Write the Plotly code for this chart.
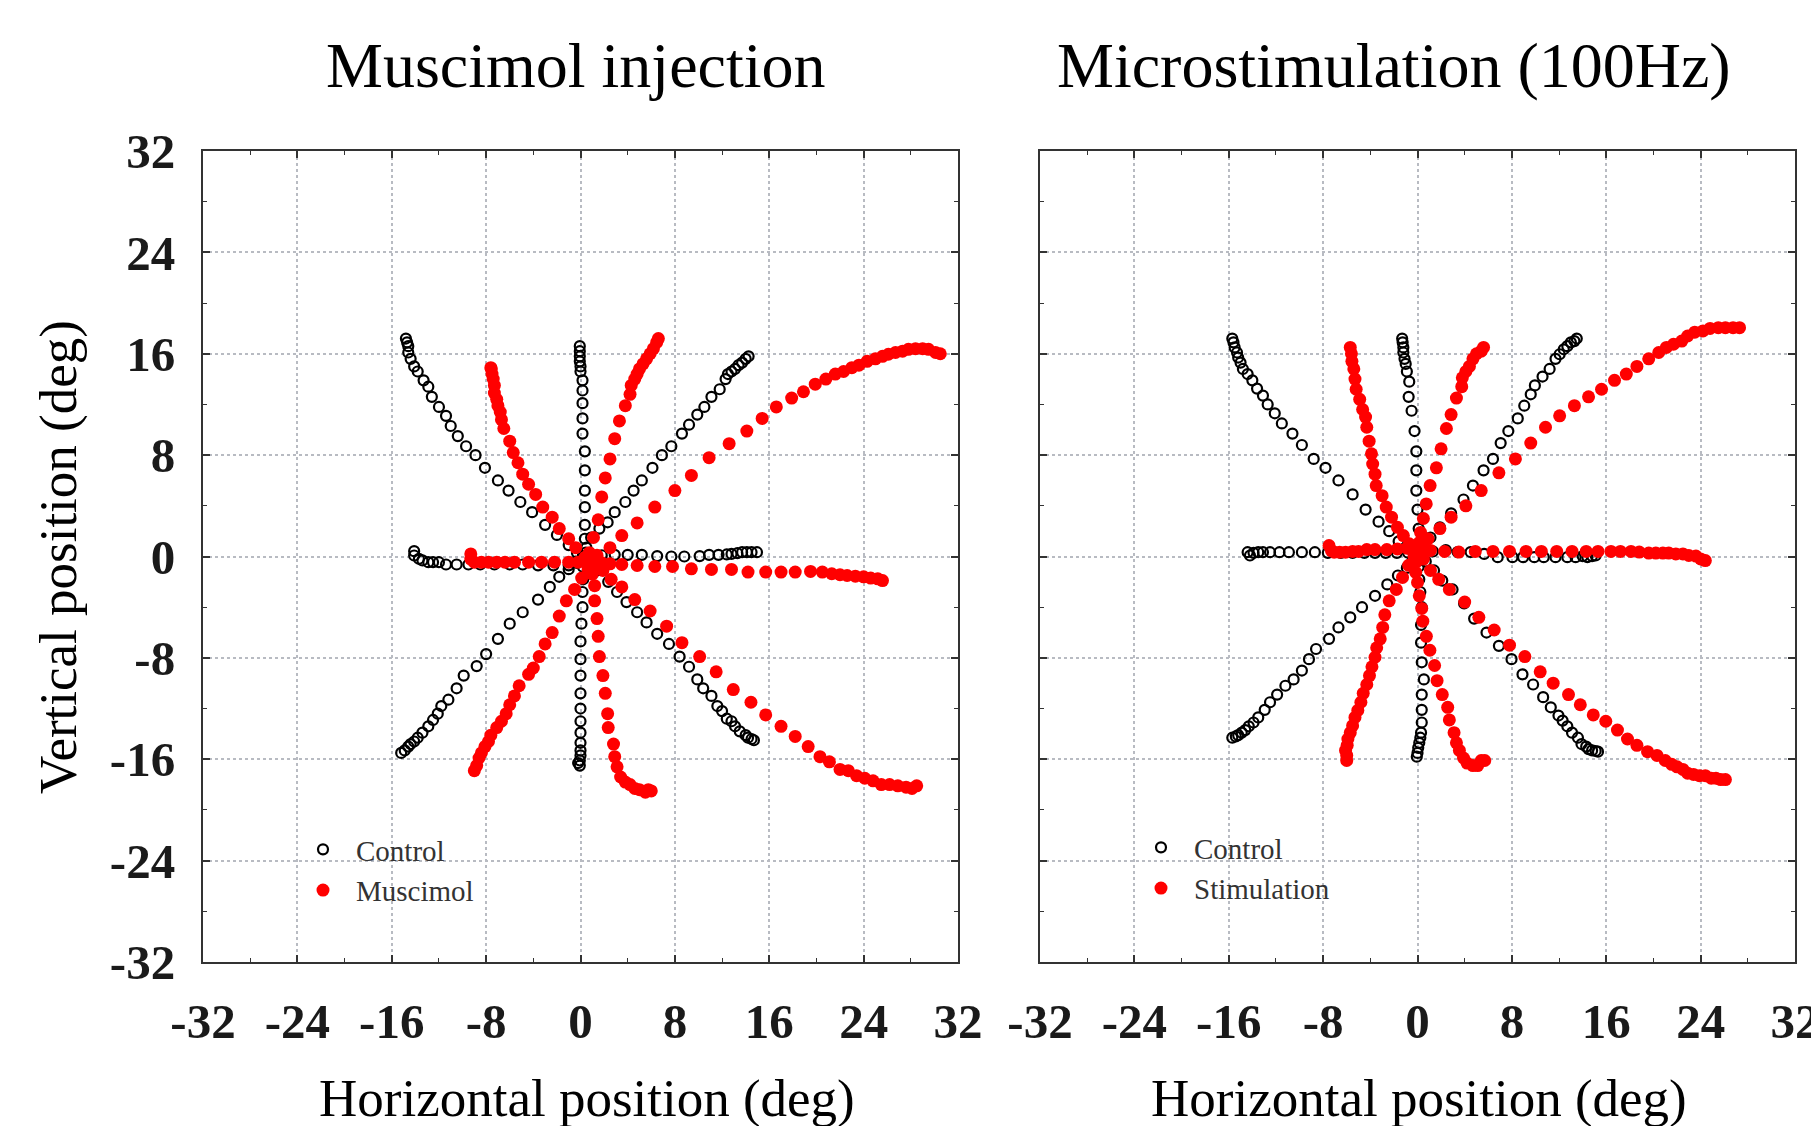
import plotly.graph_objects as go

# ---------------- Tick labels ----------------
TICK_VALS = [-32, -24, -16, -8, 0, 8, 16, 24, 32]
TICK_TEXT = ["-32", "-24", "-16", "-8", "0", "8", "16", "24", "32"]
MINOR_VALS = [-28, -20, -12, -4, 4, 12, 20, 28]

# ================= LEFT PANEL: Muscimol injection =================
# --- Control (open circles) ---
L_CTRL_UL_X = [0.2, -0.3, -1.0, -2.0, -3.0, -4.1, -5.1, -6.1, -7.0, -8.1, -8.9, -9.7, -10.4, -11.0, -11.4, -12.0, -12.6, -12.9, -13.3, -13.8, -14.1, -14.4, -14.6, -14.6, -14.7, -14.8]
L_CTRL_UL_Y = [0.0, 0.3, 0.9, 1.7, 2.5, 3.5, 4.3, 5.2, 6.0, 7.0, 8.0, 8.7, 9.5, 10.3, 11.1, 11.8, 12.6, 13.4, 13.9, 14.6, 15.0, 15.6, 16.1, 16.6, 16.9, 17.2]
L_CTRL_U_X = [0.3, 0.45, 0.37, 0.37, 0.37, 0.37, 0.37, 0.37, 0.17, 0.17, 0.17, 0.17, 0.17, 0.0, 0.0, -0.06, -0.06, -0.06, -0.06]
L_CTRL_U_Y = [-0.2, 0.3, 1.4, 2.5, 3.9, 5.2, 6.8, 8.3, 9.7, 10.9, 12.1, 13.1, 13.9, 14.6, 15.0, 15.4, 15.8, 16.2, 16.6]
L_CTRL_UR_X = [0.2, 0.5, 0.9, 1.6, 2.3, 2.9, 3.8, 4.5, 5.2, 6.1, 6.9, 7.7, 8.6, 9.2, 9.9, 10.5, 11.1, 11.8, 12.3, 12.5, 12.8, 13.1, 13.4, 13.7, 14.0, 14.25]
L_CTRL_UR_Y = [0.0, 0.7, 1.5, 2.2, 2.7, 3.5, 4.3, 5.2, 6.0, 7.0, 8.0, 8.7, 9.7, 10.4, 11.2, 11.8, 12.6, 13.2, 14.0, 14.4, 14.6, 14.8, 15.1, 15.3, 15.6, 15.8]
L_CTRL_L_X = [0.3, -0.3, -1.0, -2.3, -3.6, -4.9, -6.0, -7.3, -8.5, -9.5, -10.5, -11.4, -12.0, -12.5, -12.9, -13.4, -13.7, -14.1, -14.1]
L_CTRL_L_Y = [-0.3, -0.5, -0.7, -0.7, -0.7, -0.63, -0.63, -0.63, -0.63, -0.63, -0.63, -0.63, -0.45, -0.45, -0.45, -0.31, -0.18, 0.08, 0.42]
L_CTRL_R_X = [0.8, 1.8, 2.9, 4.0, 5.2, 6.5, 7.7, 8.8, 10.1, 10.9, 11.7, 12.4, 12.8, 13.3, 13.7, 14.1, 14.5, 14.96]
L_CTRL_R_Y = [-0.1, 0.1, 0.13, 0.13, 0.13, 0.03, 0.0, 0.0, 0.03, 0.13, 0.13, 0.16, 0.2, 0.26, 0.34, 0.34, 0.34, 0.34]
L_CTRL_LR_X = [0.5, 1.4, 2.35, 3.1, 3.9, 4.8, 5.6, 6.5, 7.5, 8.4, 9.2, 9.9, 10.4, 11.1, 11.6, 12.0, 12.4, 12.8, 13.1, 13.5, 14.0, 14.2, 14.5, 14.7]
L_CTRL_LR_Y = [-0.3, -1.1, -2.0, -2.8, -3.6, -4.4, -5.2, -6.1, -6.9, -7.9, -8.7, -9.7, -10.4, -11.0, -11.8, -12.2, -12.8, -13.0, -13.4, -13.8, -14.1, -14.3, -14.4, -14.5]
L_CTRL_D_X = [0.2, 0.2, 0.23, 0.17, 0.17, 0.08, 0.0, 0.0, 0.0, 0.0, 0.0, 0.0, 0.0, 0.0, 0.0, 0.0, -0.06, -0.2, -0.06]
L_CTRL_D_Y = [-0.1, -0.8, -1.8, -2.8, -4.0, -5.3, -6.7, -8.1, -9.4, -10.8, -12.0, -13.0, -13.9, -14.7, -15.3, -15.7, -16.1, -16.3, -16.5]
L_CTRL_LL_X = [0.2, -0.4, -1.0, -1.8, -2.6, -3.6, -4.9, -6.0, -7.0, -8.0, -8.8, -9.9, -10.5, -11.2, -11.8, -12.1, -12.5, -12.9, -13.4, -13.8, -14.1, -14.4, -14.6, -14.9, -15.2]
L_CTRL_LL_Y = [0.0, -0.4, -1.0, -1.6, -2.4, -3.4, -4.4, -5.3, -6.5, -7.7, -8.65, -9.4, -10.4, -11.3, -11.8, -12.4, -12.9, -13.4, -13.9, -14.3, -14.6, -14.8, -15.0, -15.3, -15.5]

# --- Muscimol (filled red) ---
L_MUS_L_X = [1.2, 1.0, 0.5, -0.2, -1.0, -2.2, -3.3, -4.4, -5.6, -6.4, -7.1, -7.8, -8.4, -9.0, -9.3, -9.3]
L_MUS_L_Y = [-0.5, -0.5, -0.45, -0.45, -0.45, -0.45, -0.45, -0.45, -0.45, -0.45, -0.45, -0.45, -0.45, -0.45, -0.2, 0.2]
L_MUS_UL_X = [1.1, 0.8, 0.4, -0.4, -1.0, -1.8, -2.4, -3.2, -3.8, -4.4, -4.9, -5.3, -5.7, -6.0, -6.5, -6.7, -6.8, -7.0, -7.1, -7.3, -7.3, -7.4, -7.5, -7.56, -7.6]
L_MUS_UL_Y = [-0.45, -0.3, -0.05, 0.7, 1.4, 2.2, 3.1, 3.9, 4.9, 5.7, 6.5, 7.4, 8.2, 9.1, 10.1, 10.8, 11.4, 11.9, 12.4, 12.9, 13.5, 14.0, 14.4, 14.8, 14.9]
L_MUS_U_X = [1.1, 0.9, 0.75, 1.1, 1.5, 1.8, 2.1, 2.5, 2.9, 3.3, 3.8, 4.2, 4.3, 4.6, 4.8, 5.0, 5.3, 5.6, 5.9, 6.18, 6.46, 6.6]
L_MUS_U_Y = [-0.4, -0.1, 0.3, 1.5, 2.9, 4.7, 6.2, 7.7, 9.3, 10.7, 11.9, 12.8, 13.5, 14.0, 14.4, 14.8, 15.2, 15.6, 16.0, 16.4, 16.9, 17.2]
L_MUS_UR_X = [1.2, 1.4, 2.5, 3.5, 4.8, 6.3, 8.0, 9.4, 10.9, 12.6, 14.1, 15.4, 16.6, 17.9, 18.9, 19.9, 20.8, 21.6, 22.3, 23.0, 23.6, 24.3, 25.0, 25.6, 26.1, 26.7, 27.3, 27.8, 28.4, 29.0, 29.5, 30.1, 30.5]
L_MUS_UR_Y = [-0.3, 0.1, 0.7, 1.65, 2.65, 3.9, 5.2, 6.4, 7.8, 8.9, 9.9, 10.9, 11.8, 12.5, 13.0, 13.6, 14.0, 14.4, 14.6, 14.9, 15.1, 15.4, 15.6, 15.8, 15.96, 16.1, 16.2, 16.35, 16.4, 16.4, 16.35, 16.1, 16.0]
L_MUS_R_X = [1.3, 1.8, 2.5, 3.5, 4.8, 6.3, 7.8, 9.4, 11.1, 12.8, 14.2, 15.7, 17.0, 18.2, 19.5, 20.5, 21.3, 22.0, 22.6, 23.3, 24.0, 24.6, 25.2, 25.6]
L_MUS_R_Y = [-0.45, -0.5, -0.58, -0.63, -0.71, -0.79, -0.79, -0.97, -1.02, -1.02, -1.23, -1.23, -1.23, -1.23, -1.18, -1.23, -1.36, -1.44, -1.5, -1.55, -1.6, -1.7, -1.76, -1.9]
L_MUS_LR_X = [1.3, 1.9, 2.6, 3.5, 4.6, 5.9, 7.3, 8.6, 10.1, 11.5, 12.95, 14.45, 15.7, 17.0, 18.2, 19.3, 20.3, 21.1, 22.0, 22.7, 23.4, 24.1, 24.8, 25.5, 26.2, 26.9, 27.6, 28.1, 28.5]
L_MUS_LR_Y = [-0.6, -1.1, -1.8, -2.4, -3.4, -4.3, -5.5, -6.8, -7.9, -9.1, -10.5, -11.5, -12.5, -13.4, -14.2, -15.0, -15.8, -16.2, -16.8, -16.9, -17.3, -17.5, -17.7, -18.0, -18.0, -18.1, -18.2, -18.3, -18.1]
L_MUS_D_X = [1.2, 1.0, 1.2, 1.2, 1.4, 1.5, 1.6, 1.9, 2.1, 2.3, 2.35, 2.8, 2.9, 3.1, 3.4, 3.8, 4.2, 4.6, 5.0, 5.5, 5.75, 6.0]
L_MUS_D_Y = [-0.6, -1.4, -2.3, -3.5, -4.9, -6.3, -7.9, -9.4, -10.8, -12.4, -13.5, -14.8, -15.8, -16.6, -17.4, -17.8, -18.0, -18.3, -18.4, -18.6, -18.4, -18.5]
L_MUS_LL_X = [1.1, 0.65, 0.1, -0.5, -1.2, -1.8, -2.4, -3.0, -3.5, -4.0, -4.4, -5.2, -5.6, -6.0, -6.3, -6.7, -7.1, -7.6, -7.8, -8.1, -8.4, -8.6, -8.8, -9.0]
L_MUS_LL_Y = [-0.5, -1.0, -1.7, -2.6, -3.5, -4.7, -6.0, -6.9, -7.9, -8.8, -9.3, -10.2, -11.0, -11.7, -12.4, -13.0, -13.5, -14.1, -14.6, -15.0, -15.5, -15.9, -16.5, -16.9]

# ================= RIGHT PANEL: Microstimulation (100Hz) =================
# --- Control (open circles) ---
R_CTRL_UL_X = [0.0, -0.4, -1.0, -1.6, -2.4, -3.3, -4.4, -5.5, -6.7, -7.8, -8.8, -9.8, -10.6, -11.5, -12.1, -12.7, -13.1, -13.6, -14.0, -14.4, -14.8, -15.0, -15.2, -15.3, -15.5, -15.6, -15.7]
R_CTRL_UL_Y = [0.3, 0.4, 0.7, 1.2, 2.0, 2.75, 3.7, 4.9, 6.0, 7.0, 7.7, 8.8, 9.7, 10.5, 11.3, 12.0, 12.7, 13.25, 13.9, 14.4, 14.8, 15.3, 15.7, 16.1, 16.5, 16.9, 17.2]
R_CTRL_U_X = [0.1, 0.15, 0.1, 0.0, -0.1, -0.1, -0.1, -0.25, -0.5, -0.75, -0.7, -0.9, -1.0, -1.1, -1.2, -1.2, -1.26, -1.3]
R_CTRL_U_Y = [0.3, 1.0, 2.2, 3.7, 5.2, 6.8, 8.3, 9.9, 11.5, 12.6, 13.8, 14.6, 15.2, 15.6, 16.1, 16.5, 16.9, 17.2]
R_CTRL_UR_X = [0.1, 0.5, 1.1, 1.9, 2.85, 3.9, 4.7, 5.6, 6.4, 7.05, 7.7, 8.5, 9.05, 9.6, 9.95, 10.6, 11.2, 11.7, 12.05, 12.4, 12.7, 13.0, 13.3, 13.5]
R_CTRL_UR_Y = [0.3, 0.8, 1.5, 2.3, 3.4, 4.5, 5.6, 6.8, 7.7, 8.95, 9.9, 10.9, 11.9, 12.8, 13.5, 14.2, 14.8, 15.6, 15.96, 16.35, 16.6, 16.9, 17.0, 17.2]
R_CTRL_L_X = [0.0, -0.8, -1.75, -2.7, -3.6, -4.5, -5.5, -6.5, -7.6, -8.7, -9.8, -10.9, -11.7, -12.5, -13.1, -13.5, -13.9, -14.2, -14.4]
R_CTRL_L_Y = [0.3, 0.3, 0.29, 0.29, 0.29, 0.29, 0.29, 0.29, 0.29, 0.34, 0.34, 0.34, 0.34, 0.34, 0.34, 0.34, 0.29, 0.08, 0.34]
R_CTRL_R_X = [0.3, 1.3, 2.4, 3.4, 4.5, 5.65, 6.8, 8.05, 8.95, 9.9, 10.7, 11.7, 12.7, 13.4, 14.0, 14.4, 14.8, 15.1]
R_CTRL_R_Y = [0.3, 0.4, 0.5, 0.35, 0.35, 0.2, -0.05, -0.05, -0.05, -0.05, -0.05, -0.05, -0.05, -0.05, 0.03, -0.05, 0.03, 0.08]
R_CTRL_LR_X = [0.2, 0.7, 1.4, 2.1, 2.97, 3.95, 4.8, 5.85, 6.9, 7.97, 8.9, 9.8, 10.65, 11.3, 11.95, 12.3, 12.7, 13.1, 13.6, 13.9, 14.3, 14.5, 14.8, 15.1, 15.3]
R_CTRL_LR_Y = [0.2, -0.4, -1.1, -1.9, -2.6, -3.7, -4.9, -6.0, -7.05, -8.1, -9.3, -10.1, -11.1, -11.9, -12.55, -12.95, -13.4, -13.9, -14.3, -14.8, -15.0, -15.2, -15.3, -15.35, -15.4]
R_CTRL_D_X = [0.0, 0.1, 0.15, 0.24, 0.36, 0.3, 0.3, 0.36, 0.54, 0.36, 0.36, 0.36, 0.3, 0.24, 0.15, 0.06, 0.0, -0.06]
R_CTRL_D_Y = [0.2, -0.8, -1.8, -2.8, -4.0, -5.4, -6.8, -8.35, -9.7, -10.9, -12.1, -13.1, -13.9, -14.3, -14.7, -15.1, -15.5, -15.8]
R_CTRL_LL_X = [0.0, -0.4, -0.9, -1.66, -2.56, -3.6, -4.7, -5.7, -6.7, -7.5, -8.6, -9.2, -9.8, -10.5, -11.2, -11.9, -12.5, -12.95, -13.5, -13.9, -14.3, -14.6, -14.9, -15.2, -15.4, -15.7]
R_CTRL_LL_Y = [0.2, -0.3, -0.9, -1.5, -2.2, -3.1, -4.0, -4.8, -5.6, -6.5, -7.3, -8.1, -9.0, -9.7, -10.2, -10.9, -11.5, -12.1, -12.7, -13.1, -13.4, -13.7, -13.9, -14.1, -14.2, -14.3]

# --- Stimulation (filled red) ---
R_STIM_L_X = [0.1, -0.3, -0.9, -1.7, -2.6, -3.6, -4.3, -5.0, -5.5, -6.1, -6.6, -7.06, -7.3, -7.5]
R_STIM_L_Y = [0.6, 0.6, 0.66, 0.6, 0.55, 0.55, 0.55, 0.4, 0.4, 0.34, 0.34, 0.34, 0.47, 0.87]
R_STIM_UL_X = [0.0, -0.3, -0.7, -1.2, -1.7, -2.2, -2.65, -3.0, -3.5, -3.6, -3.8, -3.9, -4.1, -4.3, -4.4, -4.65, -4.9, -5.2, -5.3, -5.4, -5.56, -5.6, -5.7]
R_STIM_UL_Y = [0.6, 0.7, 1.0, 1.65, 2.3, 3.1, 3.9, 4.8, 5.6, 6.5, 7.3, 8.1, 9.1, 10.2, 11.0, 11.6, 12.4, 13.2, 14.0, 14.8, 15.4, 16.0, 16.5]
R_STIM_U_X = [0.1, 0.15, 0.26, 0.5, 0.74, 1.07, 1.6, 2.0, 2.45, 2.85, 3.3, 3.75, 3.8, 4.1, 4.4, 4.7, 5.0, 5.4, 5.6]
R_STIM_U_Y = [0.6, 1.1, 1.9, 3.0, 4.15, 5.6, 7.0, 8.5, 10.1, 11.2, 12.5, 13.4, 14.1, 14.6, 15.0, 15.6, 16.0, 16.2, 16.5]
R_STIM_UR_X = [0.1, 0.4, 0.9, 1.9, 2.85, 4.1, 5.4, 6.9, 8.3, 9.6, 10.85, 12.05, 13.3, 14.5, 15.6, 16.7, 17.7, 18.6, 19.6, 20.45, 21.1, 21.7, 22.4, 22.9, 23.5, 24.2, 24.8, 25.5, 26.1, 26.75, 27.3]
R_STIM_UR_Y = [0.6, 0.8, 1.4, 2.2, 3.1, 4.0, 5.2, 6.6, 7.7, 8.95, 10.2, 11.1, 11.9, 12.6, 13.2, 13.9, 14.4, 15.0, 15.6, 16.1, 16.5, 16.75, 17.0, 17.4, 17.7, 17.8, 18.0, 18.06, 18.06, 18.06, 18.06]
R_STIM_R_X = [0.1, 0.5, 1.1, 2.3, 3.5, 4.9, 6.4, 7.8, 9.2, 10.5, 11.8, 13.1, 14.3, 15.3, 16.4, 17.2, 18.1, 18.8, 19.6, 20.2, 20.8, 21.3, 21.9, 22.5, 23.0, 23.6, 24.0, 24.4]
R_STIM_R_Y = [0.6, 0.55, 0.48, 0.4, 0.35, 0.4, 0.4, 0.4, 0.4, 0.4, 0.4, 0.4, 0.4, 0.4, 0.4, 0.4, 0.4, 0.35, 0.27, 0.27, 0.27, 0.27, 0.2, 0.2, 0.08, 0.03, -0.19, -0.32]
R_STIM_LR_X = [0.2, 0.5, 1.1, 1.8, 2.7, 4.0, 5.2, 6.5, 7.8, 9.1, 10.4, 11.5, 12.8, 13.8, 14.9, 15.96, 16.95, 17.8, 18.6, 19.5, 20.3, 21.0, 21.55, 22.0, 22.5, 22.9, 23.4, 23.9, 24.4, 24.9, 25.3, 25.7, 26.1]
R_STIM_LR_Y = [0.4, -0.2, -1.1, -1.8, -2.6, -3.6, -4.8, -5.8, -7.0, -7.9, -9.1, -10.0, -10.9, -11.7, -12.5, -13.0, -13.7, -14.4, -14.9, -15.4, -15.7, -16.1, -16.4, -16.6, -16.8, -17.1, -17.2, -17.3, -17.3, -17.5, -17.5, -17.6, -17.6]
R_STIM_D_X = [0.0, -0.1, -0.15, 0.0, 0.15, 0.36, 0.45, 0.75, 1.05, 1.45, 1.66, 2.1, 2.56, 2.7, 3.1, 3.3, 3.55, 3.9, 4.2, 4.7, 5.1, 5.4, 5.7]
R_STIM_D_Y = [0.3, -0.4, -1.25, -2.05, -3.1, -4.1, -5.1, -6.3, -7.4, -8.6, -9.8, -10.9, -11.9, -12.9, -13.9, -14.7, -15.3, -15.9, -16.3, -16.5, -16.5, -16.1, -16.1]
R_STIM_LL_X = [0.0, -0.3, -0.75, -1.27, -1.8, -2.4, -2.77, -2.95, -3.16, -3.46, -3.6, -3.86, -4.07, -4.3, -4.6, -4.8, -5.06, -5.3, -5.5, -5.7, -5.9, -5.96, -6.1, -6.0, -6.0]
R_STIM_LL_Y = [0.5, 0.0, -0.7, -1.65, -2.6, -3.5, -4.6, -5.6, -6.5, -7.2, -7.95, -8.7, -9.4, -10.1, -10.8, -11.5, -12.15, -12.7, -13.35, -13.9, -14.4, -14.9, -15.3, -15.7, -16.1]


def flat(pairs):
    xs, ys = [], []
    for x, y in pairs:
        xs += list(x)
        ys += list(y)
    return xs, ys


left_ctrl = flat([(L_CTRL_UL_X, L_CTRL_UL_Y), (L_CTRL_U_X, L_CTRL_U_Y), (L_CTRL_UR_X, L_CTRL_UR_Y),
                  (L_CTRL_L_X, L_CTRL_L_Y), (L_CTRL_R_X, L_CTRL_R_Y), (L_CTRL_LR_X, L_CTRL_LR_Y),
                  (L_CTRL_D_X, L_CTRL_D_Y), (L_CTRL_LL_X, L_CTRL_LL_Y)])
left_mus = flat([(L_MUS_L_X, L_MUS_L_Y), (L_MUS_UL_X, L_MUS_UL_Y), (L_MUS_U_X, L_MUS_U_Y),
                 (L_MUS_UR_X, L_MUS_UR_Y), (L_MUS_R_X, L_MUS_R_Y), (L_MUS_LR_X, L_MUS_LR_Y),
                 (L_MUS_D_X, L_MUS_D_Y), (L_MUS_LL_X, L_MUS_LL_Y)])
right_ctrl = flat([(R_CTRL_UL_X, R_CTRL_UL_Y), (R_CTRL_U_X, R_CTRL_U_Y), (R_CTRL_UR_X, R_CTRL_UR_Y),
                   (R_CTRL_L_X, R_CTRL_L_Y), (R_CTRL_R_X, R_CTRL_R_Y), (R_CTRL_LR_X, R_CTRL_LR_Y),
                   (R_CTRL_D_X, R_CTRL_D_Y), (R_CTRL_LL_X, R_CTRL_LL_Y)])
right_stim = flat([(R_STIM_L_X, R_STIM_L_Y), (R_STIM_UL_X, R_STIM_UL_Y), (R_STIM_U_X, R_STIM_U_Y),
                   (R_STIM_UR_X, R_STIM_UR_Y), (R_STIM_R_X, R_STIM_R_Y), (R_STIM_LR_X, R_STIM_LR_Y),
                   (R_STIM_D_X, R_STIM_D_Y), (R_STIM_LL_X, R_STIM_LL_Y)])

SERIF = "Liberation Serif"
OPEN_MARKER = dict(symbol="circle-open", size=10, color="black", line=dict(width=2.2, color="black"))
RED_MARKER = dict(symbol="circle", size=13, color="#ff0000", line=dict(width=0))

fig = go.Figure()
fig.add_trace(go.Scatter(x=left_ctrl[0], y=left_ctrl[1], mode="markers", name="Control",
                         marker=OPEN_MARKER, xaxis="x", yaxis="y", legend="legend"))
fig.add_trace(go.Scatter(x=left_mus[0], y=left_mus[1], mode="markers", name="Muscimol",
                         marker=RED_MARKER, xaxis="x", yaxis="y", legend="legend"))
fig.add_trace(go.Scatter(x=right_ctrl[0], y=right_ctrl[1], mode="markers", name="Control",
                         marker=OPEN_MARKER, xaxis="x2", yaxis="y2", legend="legend2"))
fig.add_trace(go.Scatter(x=right_stim[0], y=right_stim[1], mode="markers", name="Stimulation",
                         marker=RED_MARKER, xaxis="x2", yaxis="y2", legend="legend2"))

W, H = 1819, 1126
OFF = 8  # page body margin
px_x = lambda p: (p - OFF) / W
px_y = lambda p: 1 - (p - OFF) / H

tickfont = dict(family=SERIF, size=49, color="#1a1a1a", weight="bold")


def axis(domain, anchor, show_labels, standoff):
    return dict(domain=domain, anchor=anchor, range=[-32, 32], autorange=False, automargin=False,
                tickmode="array", tickvals=TICK_VALS, ticktext=TICK_TEXT,
                ticks="inside", ticklen=7, tickwidth=1.6, tickcolor="#333",
                showline=True, linecolor="#333", linewidth=2, mirror="ticks",
                showgrid=True, gridcolor="#b8bbc2", griddash="dot", gridwidth=1.5,
                zeroline=False, showticklabels=show_labels, tickfont=tickfont,
                ticklabelstandoff=standoff,
                minor=dict(tickmode="array", tickvals=MINOR_VALS, ticks="inside", ticklen=4,
                           tickwidth=1.4, tickcolor="#333", showgrid=False))


y_dom = [px_y(962), px_y(151)]
fig.update_layout(
    width=W, height=H, margin=dict(l=0, r=0, t=0, b=0, pad=0, autoexpand=False),
    paper_bgcolor="white", plot_bgcolor="white",
    xaxis=axis([px_x(203), px_x(958)], "y", True, 15),
    yaxis=axis(y_dom, "x", True, 16),
    xaxis2=axis([px_x(1040), px_x(1795)], "y2", True, 15),
    yaxis2=axis(y_dom, "x2", False, 16),
    legend=dict(x=px_x(290), y=px_y(824), xanchor="left", yanchor="top",
                bgcolor="rgba(0,0,0,0)", itemwidth=56,
                font=dict(family=SERIF, size=29, color="#333")),
    legend2=dict(x=px_x(1128), y=px_y(822), xanchor="left", yanchor="top",
                 bgcolor="rgba(0,0,0,0)", itemwidth=56,
                 font=dict(family=SERIF, size=29, color="#333")),
    showlegend=True,
)

ann_font_title = dict(family=SERIF, size=64, color="black")
ann_font_axis = dict(family=SERIF, size=53, color="black")
fig.add_annotation(text="Muscimol injection", x=px_x(576), y=px_y(66), xref="paper", yref="paper",
                   showarrow=False, font=ann_font_title, xanchor="center", yanchor="middle")
fig.add_annotation(text="Microstimulation (100Hz)", x=px_x(1394), y=px_y(66), xref="paper", yref="paper",
                   showarrow=False, font=ann_font_title, xanchor="center", yanchor="middle")
fig.add_annotation(text="Horizontal position (deg)", x=px_x(587), y=px_y(1098), xref="paper", yref="paper",
                   showarrow=False, font=ann_font_axis, xanchor="center", yanchor="middle")
fig.add_annotation(text="Horizontal position (deg)", x=px_x(1419), y=px_y(1098), xref="paper", yref="paper",
                   showarrow=False, font=ann_font_axis, xanchor="center", yanchor="middle")
fig.add_annotation(text="Vertical position (deg)", x=px_x(58), y=px_y(557), xref="paper", yref="paper",
                   showarrow=False, font=ann_font_axis, xanchor="center", yanchor="middle", textangle=-90)

fig.write_html("out.html")
